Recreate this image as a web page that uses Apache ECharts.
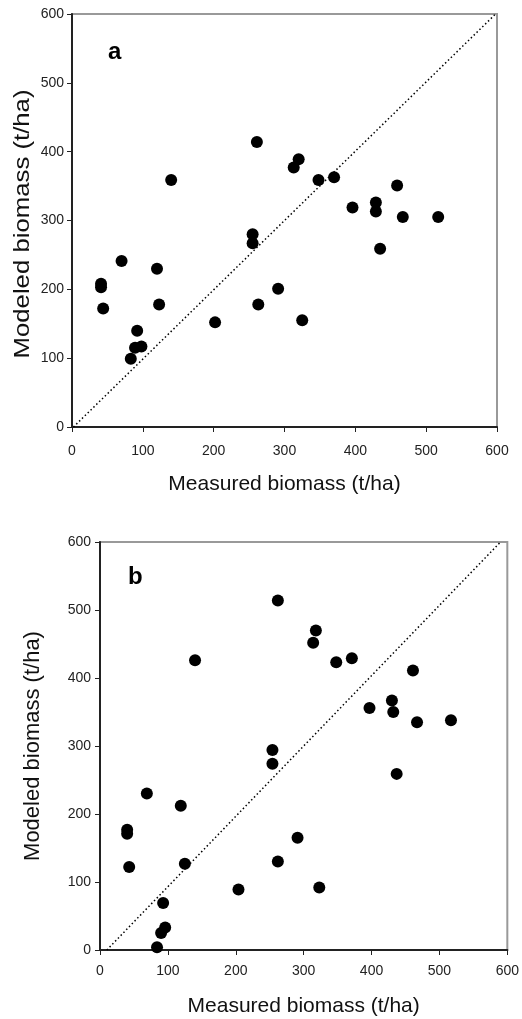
<!DOCTYPE html>
<html>
<head>
<meta charset="utf-8">
<script src="https://cdn.jsdelivr.net/npm/echarts@6/dist/echarts.min.js"></script>
<style>
  html, body { margin: 0; padding: 0; background: #fff; }
  #chart { width: 522px; height: 1019px; }
</style>
</head>
<body>
<div id="chart"></div>
<script>
// panel a
var measuredA = [261, 320, 313, 140, 348, 370, 459, 396, 429, 429, 467, 517, 255, 255, 435, 70, 120, 41, 41, 44, 123, 291, 263, 202, 325, 92, 89, 98, 83];
var modeledA  = [414, 389, 377, 359, 359, 363, 351, 319, 326, 313, 305, 305, 280, 267, 259, 241, 230, 208, 203, 172, 178, 201, 178, 152, 155, 140, 115, 117, 99];
// panel b
var measuredB = [262, 318, 314, 140, 348, 371, 461, 397, 430, 432, 467, 517, 254, 254, 437, 69, 119, 40, 40, 43, 125, 291, 262, 204, 323, 93, 96, 90, 84];
var modeledB  = [514, 470, 452, 426, 423, 429, 411, 356, 367, 350, 335, 338, 294, 274, 259, 230, 212, 177, 171, 122, 127, 165, 130, 89, 92, 69, 33, 25, 4];
// dotted reference lines
var lineA = [[2, 0], [598, 600]];
var lineB = [[10, 0], [590, 600]];
var panelLabels = ['a', 'b'];
var xTitle = 'Measured biomass (t/ha)';
var yTitle = 'Modeled biomass (t/ha)';

function pairs(xs, ys) {
    return xs.map(function (x, i) { return [x, ys[i]]; });
}

var myChart = echarts.init(document.getElementById('chart'));
var font = 'Liberation Sans, Arial, sans-serif';

function xAxisCfg(idx, labelMargin, nameGap) {
    return {
        gridIndex: idx, type: 'value', min: 0, max: 600, interval: 100,
        name: xTitle, nameLocation: 'middle', nameGap: nameGap,
        nameTextStyle: { fontSize: 21, color: '#111', fontFamily: font },
        axisLine: { show: true, lineStyle: { color: '#222', width: 2 } },
        axisTick: { show: true, inside: false, length: 5, lineStyle: { color: '#222', width: 1 } },
        axisLabel: { margin: labelMargin, fontSize: 14, color: '#222', fontFamily: font },
        splitLine: { show: false }
    };
}
function yAxisCfg(idx, labelMargin, name, nameGap) {
    return {
        gridIndex: idx, type: 'value', min: 0, max: 600, interval: 100,
        name: name, nameLocation: 'middle', nameGap: nameGap,
        nameTextStyle: { fontSize: 22, color: '#111', fontFamily: font },
        axisLine: { show: true, lineStyle: { color: '#222', width: 2 } },
        axisTick: { show: true, inside: false, length: 5, lineStyle: { color: '#222', width: 1 } },
        axisLabel: { margin: labelMargin, fontSize: 14, color: '#222', fontFamily: font },
        splitLine: { show: false }
    };
}

var option = {
    animation: false,
    grid: [
        { left: 72, top: 14, width: 425, height: 413, show: true, borderColor: '#999', borderWidth: 2 },
        { left: 100, top: 542, width: 408, height: 408, show: true, borderColor: '#999', borderWidth: 2 }
    ],
    xAxis: [xAxisCfg(0, 17, 47), xAxisCfg(1, 14, 46)],
    yAxis: [yAxisCfg(0, 8, '', 0), yAxisCfg(1, 9, yTitle, 56)],
    graphic: [
        { type: 'text', left: 108, top: 40, style: { text: panelLabels[0], font: 'bold 24px ' + font, fill: '#000' } },
        { type: 'text', left: 128, top: 565, style: { text: panelLabels[1], font: 'bold 24px ' + font, fill: '#000' } },
        // y title of panel a is drawn a bit longer than in panel b
        {
            type: 'text', x: 23, y: 224, rotation: Math.PI / 2, scaleX: 1.17,
            style: { text: yTitle, font: '22px ' + font, fill: '#111', align: 'center', verticalAlign: 'middle' }
        }
    ],
    series: [
        {
            type: 'line', xAxisIndex: 0, yAxisIndex: 0, data: lineA, showSymbol: false,
            lineStyle: { color: '#000', width: 1.5, type: [1.5, 2.5] }, silent: true
        },
        {
            type: 'scatter', xAxisIndex: 0, yAxisIndex: 0, data: pairs(measuredA, modeledA),
            symbolSize: 12, itemStyle: { color: '#000', opacity: 1 }
        },
        {
            type: 'line', xAxisIndex: 1, yAxisIndex: 1, data: lineB, showSymbol: false,
            lineStyle: { color: '#000', width: 1.5, type: [1.5, 2.5] }, silent: true
        },
        {
            type: 'scatter', xAxisIndex: 1, yAxisIndex: 1, data: pairs(measuredB, modeledB),
            symbolSize: 12, itemStyle: { color: '#000', opacity: 1 }
        }
    ]
};

myChart.setOption(option);
window.addEventListener('resize', function () {
    myChart.resize();
});
</script>
</body>
</html>
